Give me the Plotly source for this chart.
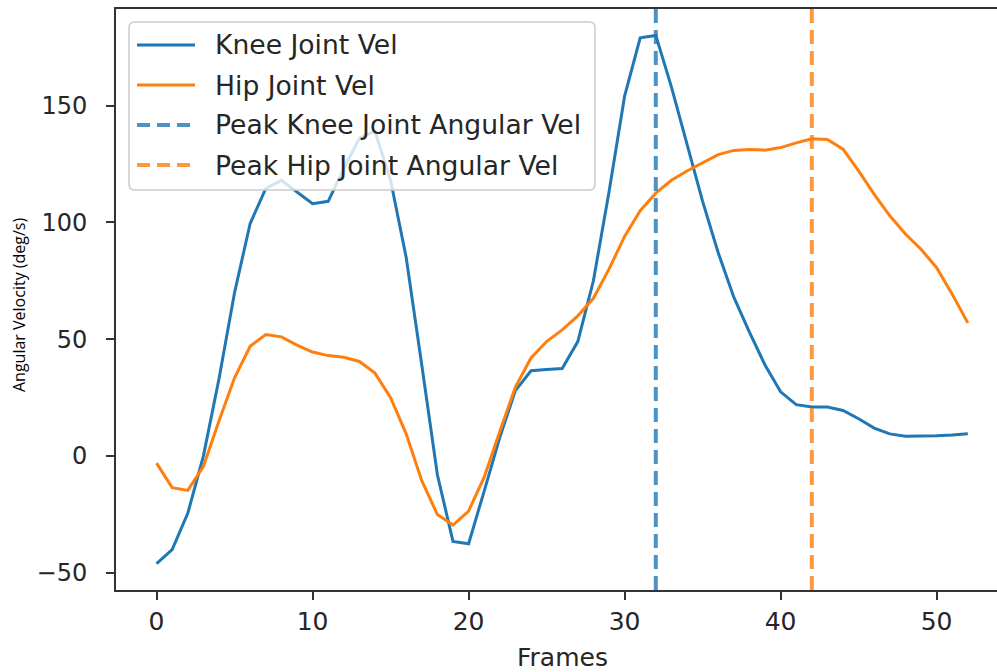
import numpy as np
import plotly.graph_objects as go

# Joint angular velocities per frame (deg/s)
frames = list(range(53))
knee_vel = [-46, -40, -24.5, 0, 33, 70, 99.5, 114.5, 118, 113,
            108, 109, 123, 136, 139, 118, 85, 39, -8, -36.5,
            -37.5, -15, 8, 28, 36.5, 37, 37.5, 49, 75, 113,
            154, 179, 180, 158, 133, 109, 87, 68, 53, 39,
            27.5, 22, 21, 21, 19.5, 16, 12, 9.5, 8.5, 8.5,
            8.7, 9, 9.6]
hip_vel = [-3, -13.5, -14.7, -4.5, 15, 33.5, 47, 52, 51, 47.5,
           44.5, 43, 42.3, 40.5, 35.5, 25, 9.5, -10.5, -25, -29.5,
           -23.5, -9, 10.5, 29.5, 42, 49, 54, 60, 67.5, 80,
           94, 105, 112.5, 118, 122, 125.6, 129, 130.8, 131.2, 130.9,
           132, 134, 135.8, 135.5, 131.3, 122, 112, 102.8, 95, 88.5,
           80.6, 69.2, 57]

series_names = ["Knee Joint Vel", "Hip Joint Vel",
                "Peak Knee Joint Angular Vel", "Peak Hip Joint Angular Vel"]
x_ticks = [0, 10, 20, 30, 40, 50]
y_ticks = [-50, 0, 50, 100, 150]

BLUE = "#1f77b4"
ORANGE = "#ff7f0e"
BLUE_DASH = "rgba(31,119,180,0.8)"
ORANGE_DASH = "rgba(255,127,14,0.8)"
TEXT = "#262626"
AXIS = "#333333"

W, H = 997, 672
ML, MR, MT, MB = 116, 0, 9, 82
PW, PH = W - ML - MR, H - MT - MB

def px(xp):
    return (xp - ML) / PW

def py(yp):
    return (H - MB - yp) / PH

knee_peak = frames[int(np.argmax(knee_vel))]
hip_peak = frames[int(np.argmax(hip_vel))]

fig = go.Figure()
fig.add_trace(go.Scatter(x=frames, y=knee_vel, mode="lines", name=series_names[0],
                         line=dict(color=BLUE, width=3), showlegend=False))
fig.add_trace(go.Scatter(x=frames, y=hip_vel, mode="lines", name=series_names[1],
                         line=dict(color=ORANGE, width=3), showlegend=False))

# vertical markers at the peak frames
fig.add_vline(x=knee_peak, line=dict(color=BLUE_DASH, width=4, dash="14px,7px"))
fig.add_vline(x=hip_peak, line=dict(color=ORANGE_DASH, width=4, dash="14px,7px"))

# legend box with rounded corners
x0, x1, y0, y1 = 129, 595, 22, 190
r = 6
rx, ry = r / PW, r / PH
X0, X1, Y0, Y1 = px(x0), px(x1), py(y0), py(y1)
path = (f"M {X0+rx},{Y0} L {X1-rx},{Y0} Q {X1},{Y0} {X1},{Y0-ry} "
        f"L {X1},{Y1+ry} Q {X1},{Y1} {X1-rx},{Y1} "
        f"L {X0+rx},{Y1} Q {X0},{Y1} {X0},{Y1+ry} "
        f"L {X0},{Y0-ry} Q {X0},{Y0} {X0+rx},{Y0} Z")
fig.add_shape(type="path", path=path, xref="paper", yref="paper",
              fillcolor="rgba(255,255,255,0.8)", line=dict(color="#cccccc", width=1.5),
              layer="above")

legend_rows = [45, 85, 125, 165]
legend_styles = [(BLUE, "solid", 3), (ORANGE, "solid", 3),
                 (BLUE_DASH, "13px,7px", 4), (ORANGE_DASH, "13px,7px", 4)]
for name, yrow, (col, dash, w) in zip(series_names, legend_rows, legend_styles):
    fig.add_shape(type="line", xref="paper", yref="paper",
                  x0=px(137), x1=px(195), y0=py(yrow), y1=py(yrow),
                  line=dict(color=col, width=w, dash=dash), layer="above")
    fig.add_annotation(text=name, xref="paper", yref="paper", x=px(213), y=py(yrow),
                       xanchor="left", yanchor="middle", showarrow=False,
                       font=dict(family="DejaVu Sans", size=26.6, color=TEXT))

# axis titles
fig.add_annotation(text="Frames", xref="paper", yref="paper", x=px(562), y=py(657),
                   xanchor="center", yanchor="middle", showarrow=False,
                   font=dict(family="DejaVu Sans", size=25, color=TEXT))
fig.add_annotation(text="Angular Velocity (deg/s)", xref="paper", yref="paper",
                   x=px(19), y=py(305), textangle=-90, xanchor="center", yanchor="middle",
                   showarrow=False, font=dict(family="Open Sans", size=16, color="#000000"))

fig.update_layout(
    width=W, height=H,
    margin=dict(l=ML, r=MR, t=MT, b=MB, pad=0),
    paper_bgcolor="white", plot_bgcolor="white",
    showlegend=False,
    font=dict(family="DejaVu Sans", color=TEXT),
)
fig.update_xaxes(range=[-2.6, 53.87], tickvals=x_ticks, ticktext=[str(v) for v in x_ticks],
                 showgrid=False, zeroline=False, showline=True, linecolor=AXIS, linewidth=2,
                 mirror=True, ticks="outside", ticklen=8, tickwidth=2, tickcolor=AXIS,
                 tickfont=dict(family="DejaVu Sans", size=25, color=TEXT),
                 ticklabelstandoff=0)
fig.update_yaxes(range=[-57.3, 191.3], tickvals=y_ticks, ticktext=[str(v) if v >= 0 else "\u2212" + str(-v) for v in y_ticks],
                 showgrid=False, zeroline=False, showline=True, linecolor=AXIS, linewidth=2,
                 mirror=False, ticks="outside", ticklen=8, tickwidth=2, tickcolor=AXIS,
                 tickfont=dict(family="DejaVu Sans", size=24, color=TEXT),
                 ticklabelstandoff=14)

fig.write_html("out.html")
